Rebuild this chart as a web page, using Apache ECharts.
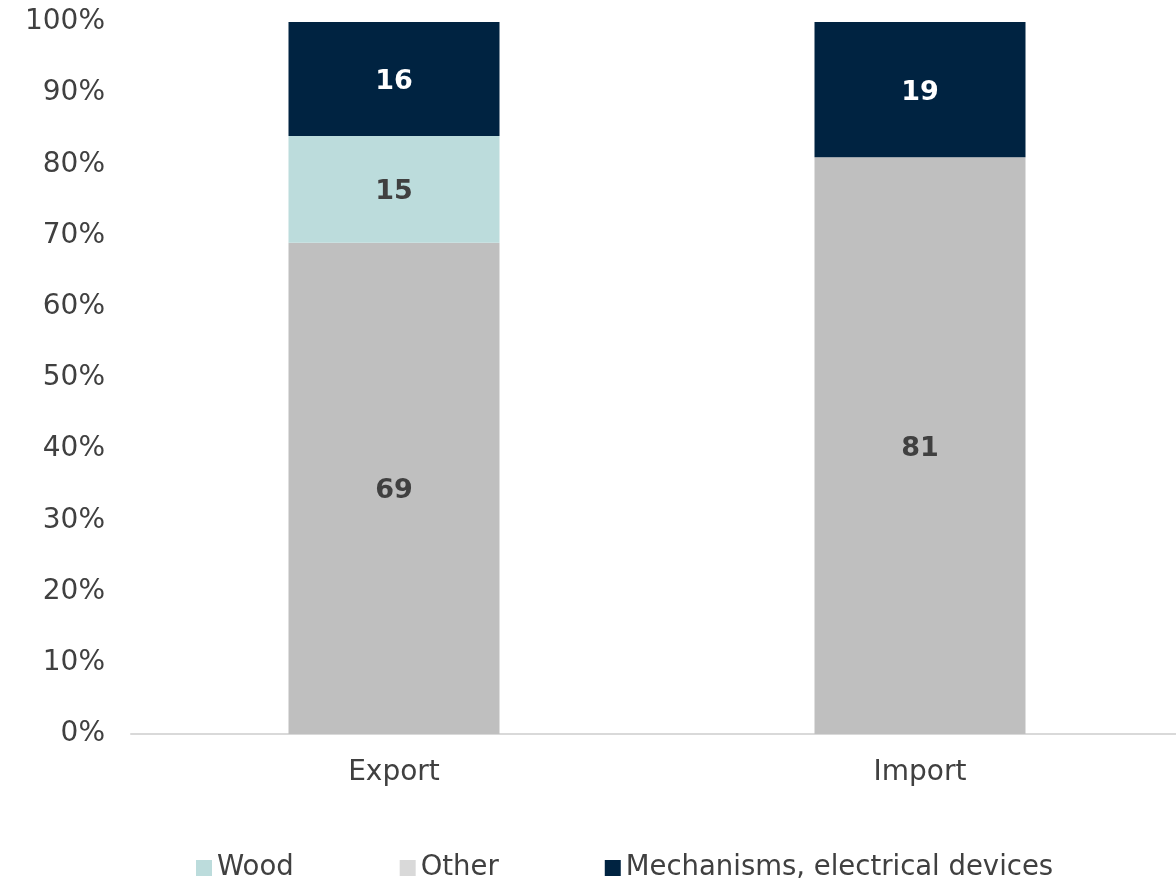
<!DOCTYPE html>
<html><head><meta charset="utf-8">
<script src="https://cdn.jsdelivr.net/npm/echarts@6/dist/echarts.min.js"></script>
<style>html,body{margin:0;padding:0;background:#fff}#c{width:1176px;height:882px}</style>
</head><body><div id="c"></div>
<script>
const categories = ['Export', 'Import'];
const other = [69, 81];
const wood = [15, 0];
const mechanisms = [16, 19];
const yTicks = [0, 10, 20, 30, 40, 50, 60, 70, 80, 90, 100];

const font = 'DejaVu Sans';
const chart = echarts.init(document.getElementById('c'));
const lbl = (color) => ({
  show: true, position: 'inside', offset: [0, 3], color: color, fontFamily: font, fontSize: 27, fontWeight: 'bold',
  formatter: p => (p.value ? p.value : '')
});
chart.setOption({
  animation: false,
  textStyle: { fontFamily: font },
  grid: { left: 131, width: 1052, top: 22, height: 712, outerBoundsMode: 'none', containLabel: false },
  legend: {
    top: 849, left: 191, itemWidth: 16, itemHeight: 16, itemGap: 106, icon: 'rect',
    textStyle: { fontFamily: font, fontSize: 27.5, color: '#404040' },
    data: [
      { name: 'Wood', itemStyle: { color: '#bcdcdc' } },
      { name: 'Other', itemStyle: { color: '#d9d9d9' } },
      { name: 'Mechanisms, electrical devices', itemStyle: { color: '#002341' } }
    ]
  },
  xAxis: {
    type: 'category', data: categories,
    axisLine: { lineStyle: { color: '#d9d9d9', width: 2 } },
    axisTick: { show: false },
    axisLabel: { fontFamily: font, fontSize: 28, color: '#404040', margin: 25 }
  },
  yAxis: {
    type: 'value', min: 0, max: 100, interval: 10,
    axisLine: { show: false }, axisTick: { show: false },
    splitLine: { show: false },
    axisLabel: { fontFamily: font, fontSize: 28, color: '#404040', margin: 26,
      formatter: v => (yTicks.includes(v) ? v + '%' : '') }
  },
  series: [
    { name: 'Other', type: 'bar', stack: 's', data: other, barWidth: 211,
      itemStyle: { color: '#bfbfbf' }, label: lbl('#404040') },
    { name: 'Wood', type: 'bar', stack: 's', data: wood,
      itemStyle: { color: '#bcdcdc' }, label: lbl('#404040') },
    { name: 'Mechanisms, electrical devices', type: 'bar', stack: 's', data: mechanisms,
      itemStyle: { color: '#002341' }, label: lbl('#ffffff') }
  ]
});
</script></body></html>
